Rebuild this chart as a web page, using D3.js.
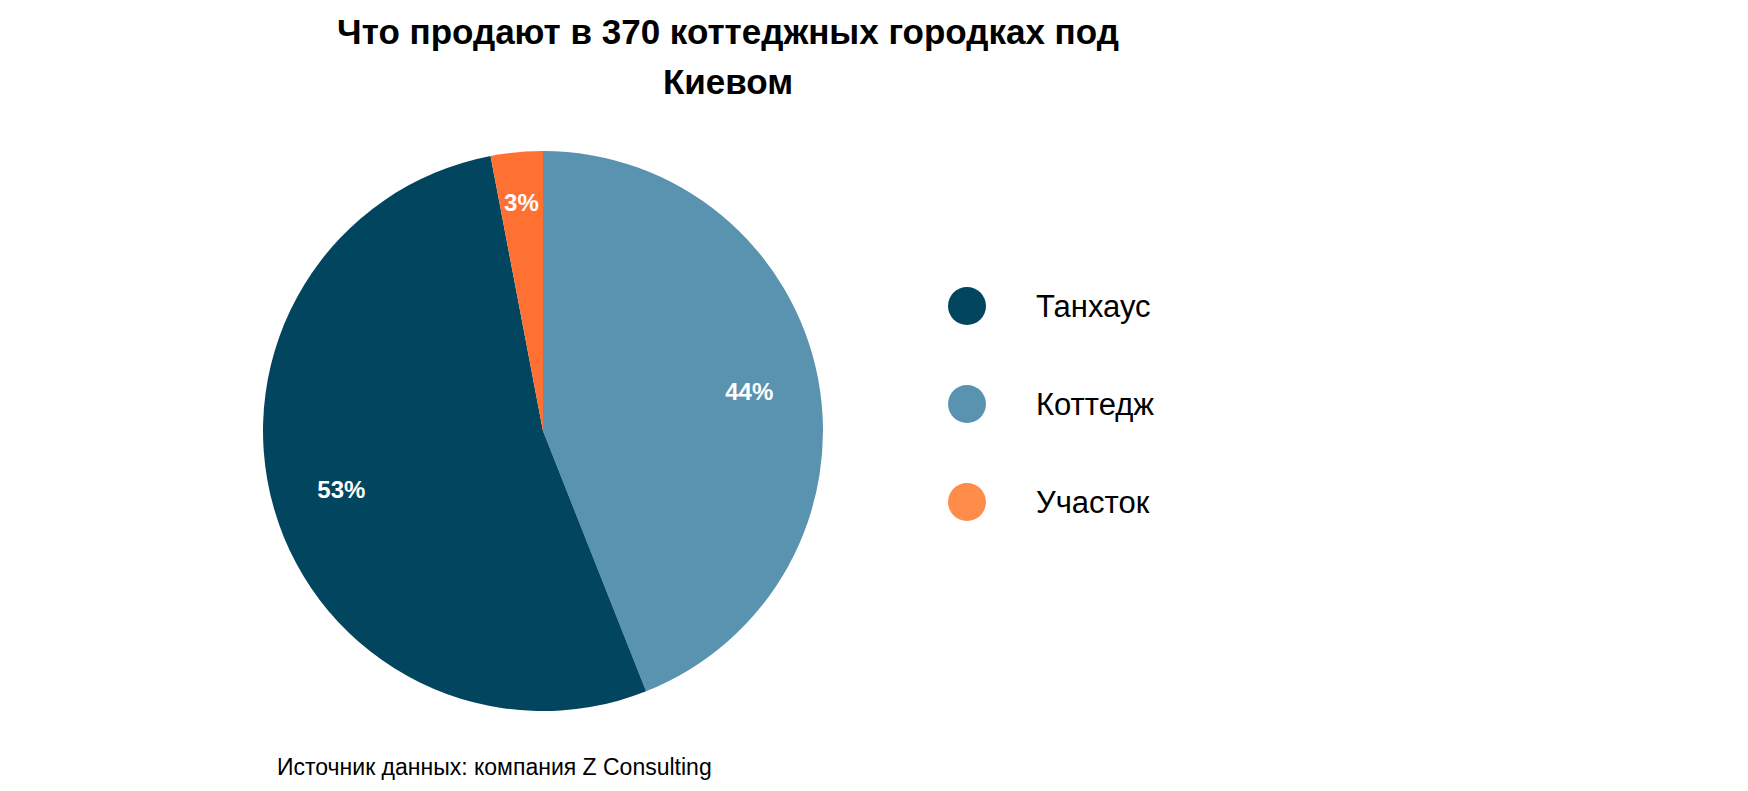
<!DOCTYPE html>
<html>
<head>
<meta charset="utf-8">
<script src="https://cdn.jsdelivr.net/npm/d3@7"></script>
<style>
  body { margin: 0; background: #fff; font-family: "Liberation Sans", Arial, sans-serif; }
</style>
</head>
<body>
<svg id="chart" width="1748" height="791"></svg>
<script>
// data
const categories = ['Коттедж', 'Танхаус', 'Участок'];
const shares = [44, 53, 3];
const legendOrder = ['Танхаус', 'Коттедж', 'Участок'];
const sliceColors = { 'Коттедж': '#5a93b0', 'Танхаус': '#02455f', 'Участок': '#ff7033' };
const legendColors = { 'Коттедж': '#5a93b0', 'Танхаус': '#02455f', 'Участок': '#ff8c48' };

const svg = d3.select('#chart');

// title
const title = svg.append('text')
  .attr('text-anchor', 'middle')
  .style('font-size', '35px').style('font-weight', 'bold');
title.append('tspan').attr('x', 728).attr('y', 44).text('Что продают в 370 коттеджных городках под');
title.append('tspan').attr('x', 728).attr('y', 94).text('Киевом');

// pie
const radius = 280;
const pie = d3.pie().sort(null).value((d) => d.value);
const arc = d3.arc().innerRadius(0).outerRadius(radius);

const rows = categories.map((c, i) => ({ name: c, value: shares[i] }));
const g = svg.append('g').attr('transform', 'translate(543,431)');

g.selectAll('path')
  .data(pie(rows))
  .join('path')
  .attr('d', arc)
  .attr('fill', (d) => sliceColors[d.data.name]);

g.selectAll('text')
  .data(pie(rows))
  .join('text')
  .attr('transform', (d) => {
    const r = d.data.value < 10 ? radius * 0.82 : radius * 0.75;
    const a = (d.startAngle + d.endAngle) / 2;
    return `translate(${Math.sin(a) * r},${-Math.cos(a) * r})`;
  })
  .attr('text-anchor', 'middle')
  .attr('dy', '0.35em')
  .attr('fill', '#fff')
  .style('font-size', '24px')
  .style('font-weight', 'bold')
  .text((d) => d.data.value + '%');

// legend
const legendY = d3.scalePoint().domain(legendOrder).range([306, 502]);
const legend = svg.append('g');
legend.selectAll('circle')
  .data(legendOrder)
  .join('circle')
  .attr('cx', 967).attr('cy', (d) => legendY(d)).attr('r', 19)
  .attr('fill', (d) => legendColors[d]);
legend.selectAll('text')
  .data(legendOrder)
  .join('text')
  .attr('x', 1036).attr('y', (d) => legendY(d))
  .attr('dy', '0.35em')
  .style('font-size', '31px')
  .text((d) => d);

// source
svg.append('text')
  .attr('x', 277).attr('y', 775)
  .style('font-size', '23px')
  .text('Источник данных: компания Z Consulting');
</script>
</body>
</html>
